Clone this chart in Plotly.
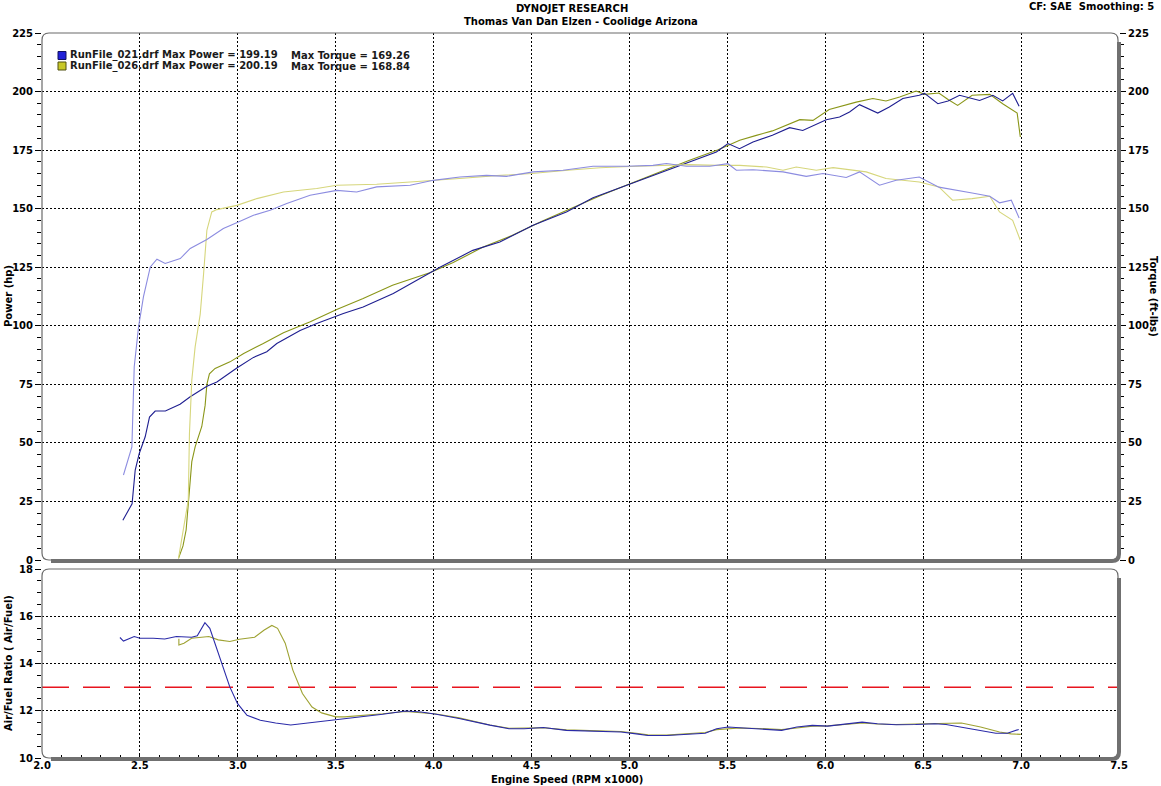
import plotly.graph_objects as go

# ---------------- data ----------------
power021_rpm = [2.413, 2.460, 2.476, 2.497, 2.527, 2.549, 2.578, 2.630, 2.705, 2.757, 2.842, 2.893, 2.995, 3.080, 3.148, 3.199, 3.318, 3.403, 3.539, 3.640, 3.794, 3.930, 4.032, 4.200, 4.338, 4.508, 4.678, 4.814, 5.000, 5.120, 5.222, 5.342, 5.444, 5.503, 5.562, 5.631, 5.730, 5.818, 5.885, 6.005, 6.073, 6.124, 6.175, 6.268, 6.327, 6.396, 6.480, 6.507, 6.575, 6.627, 6.686, 6.788, 6.856, 6.906, 6.957, 6.990]
power021 = [17.0, 24.0, 38.4, 45.6, 52.6, 61.0, 63.6, 63.6, 66.5, 69.7, 74.2, 76.0, 82.0, 86.5, 88.9, 92.4, 98.0, 101.0, 105.2, 108.0, 113.8, 120.2, 125.0, 132.2, 135.8, 142.9, 148.6, 154.7, 160.4, 164.2, 167.5, 170.9, 174.2, 177.8, 175.6, 178.5, 181.3, 184.6, 183.4, 188.0, 189.1, 191.3, 194.4, 190.8, 193.4, 197.0, 198.4, 199.2, 194.8, 196.0, 198.4, 196.2, 198.4, 196.0, 199.2, 193.7]

power026_rpm = [2.697, 2.720, 2.736, 2.753, 2.765, 2.782, 2.800, 2.816, 2.833, 2.842, 2.855, 2.884, 2.960, 3.030, 3.130, 3.233, 3.370, 3.505, 3.640, 3.790, 3.980, 4.100, 4.250, 4.400, 4.550, 4.700, 4.850, 5.000, 5.150, 5.300, 5.450, 5.563, 5.648, 5.730, 5.870, 5.937, 6.020, 6.158, 6.243, 6.310, 6.380, 6.464, 6.507, 6.580, 6.627, 6.676, 6.750, 6.840, 6.906, 6.957, 6.980, 6.996]
power026 = [0.7, 6.0, 12.8, 32.0, 42.0, 48.3, 53.0, 57.0, 66.0, 75.0, 79.5, 81.8, 84.6, 88.2, 92.4, 97.0, 101.7, 107.0, 111.6, 117.3, 122.6, 127.0, 133.5, 138.5, 144.5, 150.0, 155.5, 160.5, 165.5, 170.5, 175.0, 179.2, 181.3, 183.2, 188.0, 187.7, 192.3, 195.5, 197.0, 196.0, 197.7, 200.2, 198.8, 199.4, 196.6, 194.1, 198.4, 198.8, 194.8, 192.0, 190.8, 180.6]

torque021_rpm = [2.416, 2.459, 2.471, 2.493, 2.518, 2.553, 2.587, 2.629, 2.706, 2.757, 2.842, 2.926, 3.003, 3.080, 3.165, 3.250, 3.369, 3.505, 3.607, 3.709, 3.880, 3.998, 4.134, 4.270, 4.372, 4.508, 4.661, 4.814, 4.985, 5.120, 5.189, 5.291, 5.410, 5.503, 5.546, 5.631, 5.784, 5.903, 5.988, 6.107, 6.175, 6.277, 6.362, 6.480, 6.580, 6.686, 6.750, 6.840, 6.890, 6.950, 6.990]
torque021 = [36.3, 48.3, 82.5, 99.5, 112.3, 125.1, 128.4, 126.6, 128.7, 133.0, 136.8, 141.5, 144.3, 147.2, 149.3, 152.2, 155.7, 157.8, 157.1, 159.3, 160.0, 162.1, 163.5, 164.2, 163.8, 165.7, 166.4, 168.1, 168.1, 168.5, 169.3, 168.1, 168.1, 169.2, 166.4, 166.6, 165.7, 163.8, 165.0, 163.3, 165.7, 160.0, 162.1, 163.5, 159.2, 157.8, 156.7, 155.3, 152.5, 153.6, 146.0]

torque026_rpm = [2.697, 2.720, 2.747, 2.753, 2.765, 2.782, 2.808, 2.825, 2.842, 2.867, 2.893, 2.995, 3.097, 3.233, 3.403, 3.505, 3.709, 3.880, 4.000, 4.150, 4.300, 4.500, 4.700, 4.850, 5.000, 5.150, 5.300, 5.450, 5.563, 5.700, 5.784, 5.852, 5.954, 6.040, 6.140, 6.209, 6.310, 6.413, 6.480, 6.580, 6.650, 6.750, 6.840, 6.890, 6.957, 6.996]
torque026 = [0.7, 12.0, 25.6, 54.0, 76.8, 91.0, 105.0, 122.0, 140.8, 148.6, 149.6, 151.4, 154.3, 157.1, 158.6, 160.0, 160.4, 161.4, 162.0, 163.0, 164.0, 165.0, 166.5, 167.5, 168.0, 168.5, 168.8, 168.5, 168.5, 167.8, 166.4, 167.8, 166.4, 167.5, 166.6, 165.7, 162.9, 162.1, 161.4, 159.3, 153.6, 154.3, 155.3, 148.6, 145.0, 136.5]

afr021_rpm = [2.398, 2.416, 2.471, 2.500, 2.568, 2.627, 2.686, 2.764, 2.793, 2.832, 2.857, 2.890, 2.930, 2.959, 2.998, 3.047, 3.115, 3.193, 3.270, 3.350, 3.408, 3.500, 3.643, 3.740, 3.857, 3.936, 4.013, 4.130, 4.287, 4.385, 4.463, 4.560, 4.678, 4.795, 4.957, 5.035, 5.094, 5.190, 5.310, 5.387, 5.445, 5.504, 5.563, 5.660, 5.777, 5.855, 5.934, 6.012, 6.110, 6.188, 6.266, 6.363, 6.461, 6.559, 6.617, 6.695, 6.793, 6.871, 6.930, 6.988]
afr021 = [15.10, 14.95, 15.14, 15.07, 15.07, 15.04, 15.14, 15.11, 15.17, 15.73, 15.49, 14.71, 13.72, 13.01, 12.31, 11.81, 11.60, 11.48, 11.40, 11.48, 11.54, 11.60, 11.77, 11.85, 11.99, 11.95, 11.85, 11.67, 11.39, 11.24, 11.24, 11.29, 11.17, 11.14, 11.10, 11.02, 10.95, 10.95, 11.00, 11.05, 11.24, 11.31, 11.28, 11.24, 11.17, 11.31, 11.38, 11.35, 11.45, 11.52, 11.45, 11.41, 11.42, 11.45, 11.42, 11.31, 11.19, 11.05, 11.05, 11.21]

afr026_rpm = [2.699, 2.699, 2.725, 2.764, 2.852, 2.900, 2.959, 3.008, 3.086, 3.135, 3.174, 3.203, 3.242, 3.281, 3.330, 3.379, 3.428, 3.500, 3.545, 3.643, 3.740, 3.857, 3.936, 4.013, 4.130, 4.287, 4.385, 4.463, 4.560, 4.678, 4.795, 4.957, 5.035, 5.094, 5.190, 5.310, 5.387, 5.445, 5.504, 5.563, 5.660, 5.777, 5.855, 5.934, 6.012, 6.110, 6.188, 6.266, 6.363, 6.461, 6.598, 6.695, 6.793, 6.890, 6.949, 6.998]
afr026 = [15.05, 14.78, 14.86, 15.07, 15.14, 15.00, 14.93, 15.03, 15.11, 15.42, 15.61, 15.49, 14.86, 13.72, 12.73, 12.16, 11.91, 11.74, 11.74, 11.80, 11.87, 11.97, 11.93, 11.86, 11.70, 11.40, 11.26, 11.26, 11.28, 11.19, 11.15, 11.12, 11.05, 10.98, 10.97, 11.02, 11.08, 11.20, 11.25, 11.27, 11.25, 11.20, 11.27, 11.35, 11.36, 11.42, 11.48, 11.44, 11.42, 11.44, 11.48, 11.48, 11.31, 11.10, 11.02, 11.00]

afr_target = 13.0
rpm_range = [2.0, 7.5]

title_line1 = "DYNOJET RESEARCH"
title_line2 = "Thomas Van Dan Elzen - Coolidge Arizona"
corner_text = "CF: SAE  Smoothing: 5"
legend_rows = [
    ("RunFile_021.drf Max Power = 199.19", "Max Torque = 169.26"),
    ("RunFile_026.drf Max Power = 200.19", "Max Torque = 168.84"),
]

# ---------------- styling / layout ----------------
W, H = 1161, 786
ML, MR, MT, MB = 42, 42, 33, 28
PW, PH = W - ML - MR, H - MT - MB
TOP_Y0, TOP_Y1 = 33, 560
BOT_Y0, BOT_Y1 = 569, 758


def px(x):
    return (x - ML) / PW


def py(y):
    return 1 - (y - MT) / PH


FONT = "DejaVu Sans"
C_P021 = "#1e1e90"
C_T021 = "#8c8ce0"
C_P026 = "#8a9618"
C_T026 = "#d6d67c"
C_A021 = "#2a2aa8"
C_A026 = "#9ea232"
LW = 1.1

fig = go.Figure()

# torque curves (right axis)
fig.add_trace(go.Scatter(x=torque026_rpm, y=torque026, mode="lines", xaxis="x", yaxis="y2",
                         line=dict(color=C_T026, width=LW), showlegend=False))
fig.add_trace(go.Scatter(x=torque021_rpm, y=torque021, mode="lines", xaxis="x", yaxis="y2",
                         line=dict(color=C_T021, width=LW), showlegend=False))
# power curves
fig.add_trace(go.Scatter(x=power026_rpm, y=power026, mode="lines", xaxis="x", yaxis="y",
                         line=dict(color=C_P026, width=LW), showlegend=False))
fig.add_trace(go.Scatter(x=power021_rpm, y=power021, mode="lines", xaxis="x", yaxis="y",
                         line=dict(color=C_P021, width=LW), showlegend=False))
# AFR target line
fig.add_trace(go.Scatter(x=rpm_range, y=[afr_target, afr_target], mode="lines", xaxis="x2", yaxis="y3",
                         line=dict(color="#e8141e", width=1.5, dash="27px,14px"), showlegend=False))
# AFR curves
fig.add_trace(go.Scatter(x=afr026_rpm, y=afr026, mode="lines", xaxis="x2", yaxis="y3",
                         line=dict(color=C_A026, width=LW), showlegend=False))
fig.add_trace(go.Scatter(x=afr021_rpm, y=afr021, mode="lines", xaxis="x2", yaxis="y3",
                         line=dict(color=C_A021, width=LW), showlegend=False))

tickfont = dict(family=FONT, size=10, color="#000000", weight="bold")
grid = dict(showgrid=True, gridcolor="#000000", gridwidth=1, griddash="2px,2px", zeroline=False,
            showline=False, automargin=False)

top_dom = [py(TOP_Y1), 1.0]
bot_dom = [0.0, py(BOT_Y0)]

fig.update_layout(
    width=W, height=H,
    margin=dict(l=ML, r=MR, t=MT, b=MB, pad=0, autoexpand=False),
    paper_bgcolor="#ffffff", plot_bgcolor="#ffffff",
    showlegend=False,
    xaxis=dict(domain=[0, 1], anchor="y", range=rpm_range, showticklabels=False,
               tickvals=[2.5, 3.0, 3.5, 4.0, 4.5, 5.0, 5.5, 6.0, 6.5, 7.0],
               ticks="inside", ticklen=4, tickcolor="#000000", **grid),
    xaxis2=dict(domain=[0, 1], anchor="y3", range=rpm_range, matches="x",
                tick0=2.0, dtick=0.5, tickformat=".1f", ticks="inside", ticklen=5,
                tickcolor="#000000", tickfont=tickfont,
                minor=dict(dtick=0.1, ticks="inside", ticklen=3, tickcolor="#000000", showgrid=False),
                **grid),
    yaxis=dict(domain=top_dom, anchor="x", range=[0, 225], tick0=0, dtick=25,
               ticks="outside", ticklen=6, tickcolor="#000000", tickfont=tickfont,
               minor=dict(dtick=5, ticks="outside", ticklen=4, tickcolor="#000000", showgrid=False),
               **grid),
    yaxis2=dict(domain=top_dom, anchor="x", overlaying="y", side="right", range=[0, 225],
                tick0=0, dtick=25, ticks="outside", ticklen=6, tickcolor="#000000",
                tickfont=tickfont, showgrid=False, zeroline=False, showline=False, automargin=False,
                minor=dict(dtick=5, ticks="outside", ticklen=4, tickcolor="#000000", showgrid=False)),
    yaxis3=dict(domain=bot_dom, anchor="x2", range=[10, 18], tick0=10, dtick=2,
                ticks="outside", ticklen=6, tickcolor="#000000", tickfont=tickfont,
                minor=dict(dtick=0.5, ticks="outside", ticklen=4, tickcolor="#000000", showgrid=False),
                **grid),
)


def rounded_path(x0, y0, x1, y1, r):
    pts = [
        f"M {px(x0)},{py(y0 + r)}",
        f"Q {px(x0)},{py(y0)} {px(x0 + r)},{py(y0)}",
        f"L {px(x1 - r)},{py(y0)}",
        f"Q {px(x1)},{py(y0)} {px(x1)},{py(y0 + r)}",
        f"L {px(x1)},{py(y1 - r)}",
        f"Q {px(x1)},{py(y1)} {px(x1 - r)},{py(y1)}",
        f"L {px(x0 + r)},{py(y1)}",
        f"Q {px(x0)},{py(y1)} {px(x0)},{py(y1 - r)}",
        "Z",
    ]
    return " ".join(pts)


def shadow_path(x0, y0, x1, y1, r):
    return (f"M {px(x1)},{py(y0 + r)} L {px(x1)},{py(y1 - r)} "
            f"Q {px(x1)},{py(y1)} {px(x1 - r)},{py(y1)} L {px(x0 + r)},{py(y1)}")


shapes = []
for (y0, y1) in [(TOP_Y0, TOP_Y1), (BOT_Y0, BOT_Y1)]:
    shapes.append(dict(type="path", xref="paper", yref="paper", path=rounded_path(ML, y0, 1118, y1, 7),
                       line=dict(color="#6a6a6a", width=1.2), layer="above"))
    shapes.append(dict(type="path", xref="paper", yref="paper",
                       path=shadow_path(ML + 2, y0 + 2, 1119, y1 + 1, 7),
                       line=dict(color="#707070", width=4), layer="above"))

# legend swatches
sw_colors = [("#2020d8", "#101060"), ("#c8c828", "#505010")]
sw_y = [55.5, 66.0]
for (fc, lc), yc in zip(sw_colors, sw_y):
    shapes.append(dict(type="rect", xref="paper", yref="paper",
                       x0=px(58), x1=px(66), y0=py(yc + 4), y1=py(yc - 4),
                       fillcolor=fc, line=dict(color=lc, width=1), layer="above"))

annotations = []
tf = dict(family=FONT, size=10, color="#000000", weight="bold")
annotations.append(dict(text=title_line1, x=px(572), y=py(9), xref="paper", yref="paper",
                        showarrow=False, xanchor="center", yanchor="middle", font=tf))
annotations.append(dict(text=title_line2, x=px(581), y=py(22), xref="paper", yref="paper",
                        showarrow=False, xanchor="center", yanchor="middle", font=tf))
annotations.append(dict(text=corner_text, x=px(1156), y=py(6), xref="paper", yref="paper",
                        showarrow=False, xanchor="right", yanchor="middle", font=tf))
for (left, right), yc in zip(legend_rows, sw_y):
    annotations.append(dict(text=left, x=px(68), y=py(yc), xref="paper", yref="paper",
                            showarrow=False, xanchor="left", yanchor="middle",
                            font=dict(family=FONT, size=10, color="#1a1a1a", weight="bold")))
    annotations.append(dict(text=right, x=px(289), y=py(yc), xref="paper", yref="paper",
                            showarrow=False, xanchor="left", yanchor="middle",
                            font=dict(family=FONT, size=10, color="#1a1a1a", weight="bold")))
annotations.append(dict(text="Power (hp)", x=px(8), y=py(296), xref="paper", yref="paper",
                        showarrow=False, textangle=-90, xanchor="center", yanchor="middle", font=tf))
annotations.append(dict(text="Torque (ft-lbs)", x=px(1154), y=py(296), xref="paper", yref="paper",
                        showarrow=False, textangle=90, xanchor="center", yanchor="middle", font=tf))
annotations.append(dict(text="Air/Fuel Ratio ( Air/Fuel)", x=px(8), y=py(663), xref="paper", yref="paper",
                        showarrow=False, textangle=-90, xanchor="center", yanchor="middle", font=tf))
annotations.append(dict(text="Engine Speed (RPM x1000)", x=px(567), y=py(779), xref="paper", yref="paper",
                        showarrow=False, xanchor="center", yanchor="middle", font=tf))

fig.update_layout(shapes=shapes, annotations=annotations)

fig.write_html("out.html", config={"displayModeBar": False},
               post_script="document.body.style.margin='0';document.body.style.overflow='hidden';")
